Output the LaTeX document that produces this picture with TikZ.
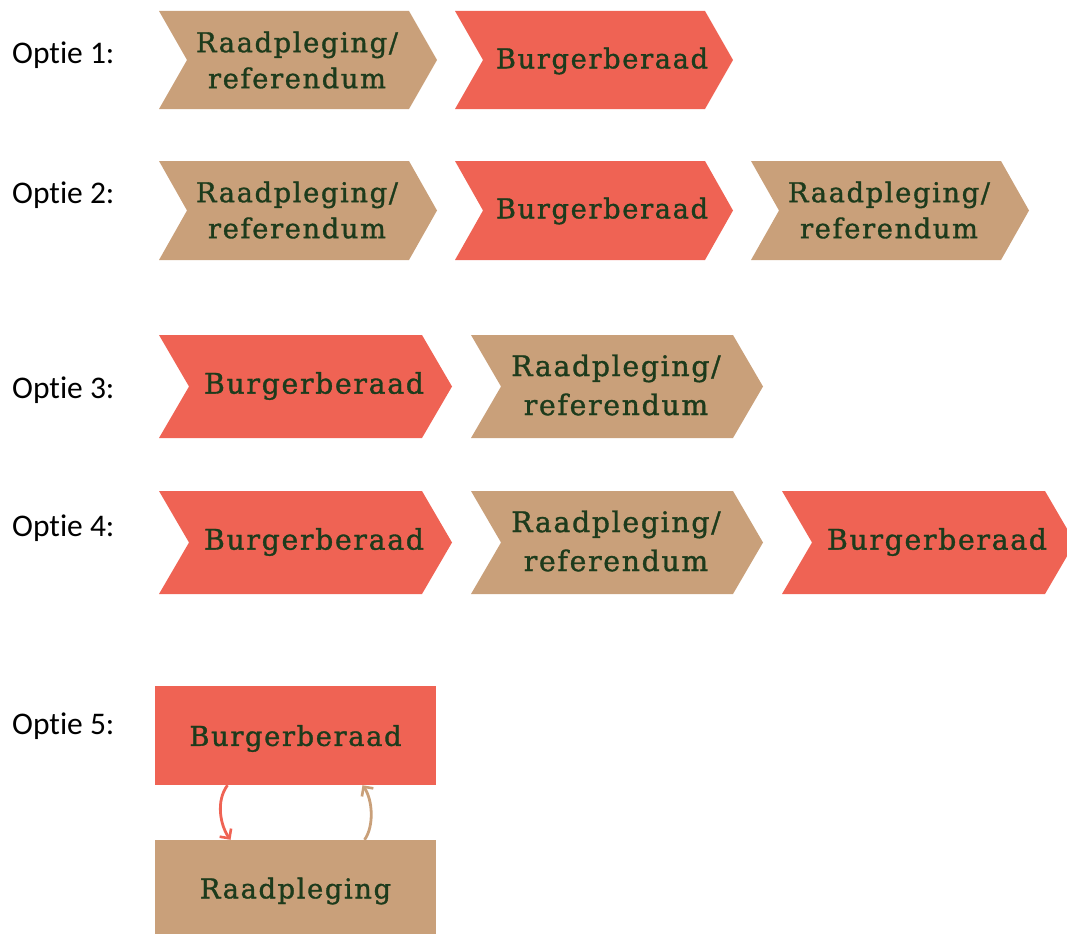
\documentclass[tikz,border=0pt]{standalone}
\usepackage{fontspec}
\setmainfont[Ligatures={NoCommon,NoRequired,NoContextual,NoDiscretionary}]{Carlito}
\newfontfamily\slab[LetterSpace=6,FakeBold=1.2]{DejaVu Serif}
\usetikzlibrary{arrows.meta}
\definecolor{tanc}{HTML}{C9A07A}
\definecolor{coral}{HTML}{EF6354}
\definecolor{ink}{HTML}{1D3B1C}
\newcommand\mychev[6]{\fill[#5] (#1,#3) -- ({#2-#6},#3) -- (#2,{(#3+#4)/2}) -- ({#2-#6},#4) -- (#1,#4) -- ({#1+#6},{(#3+#4)/2}) -- cycle;}
\tikzset{
  lab/.style={anchor=west, inner sep=0pt, font=\fontsize{31.5}{36}\selectfont, text=black},
  txt/.style={inner sep=0pt, align=center, text=ink, font=\slab\fontsize{27.3}{36}\selectfont},
  txtb/.style={inner sep=0pt, align=center, text=ink, font=\slab\fontsize{28.3}{39}\selectfont},
  boxr/.style={fill=coral, minimum width=281pt, minimum height=99pt, inner sep=0pt},
  boxt/.style={fill=tanc, minimum width=281pt, minimum height=94pt, inner sep=0pt},
  cyc/.style={line width=2.8pt, -{Straight Barb[length=7pt,width=14pt,line width=2.6pt]}}
}
\begin{document}
\begin{tikzpicture}[x=1pt,y=-1pt]
\useasboundingbox (0,0) rectangle (1067,934);
% labels
\node[lab] (o1) at (12,55) {Optie 1:};
\node[lab] (o2) at (12,195) {Optie 2:};
\node[lab] (o3) at (12,390) {Optie 3:};
\node[lab] (o4) at (12,528) {Optie 4:};
\node[lab] (o5) at (12,726) {Optie 5:};
% row 1
\mychev{159}{437}{11}{109}{tanc}{28}
\mychev{455}{733}{11}{109}{coral}{28}
\node[txt] (a1) at (297,60) {Raadpleging/\\referendum};
\node[txt] (a2) at (602,61) {Burgerberaad};
% row 2
\mychev{159}{437}{161}{260}{tanc}{28}
\mychev{455}{733}{161}{260}{coral}{28}
\mychev{751}{1029}{161}{260}{tanc}{28}
\node[txt] (b1) at (297,210) {Raadpleging/\\referendum};
\node[txt] (b2) at (602,211) {Burgerberaad};
\node[txt] (b3) at (889,210) {Raadpleging/\\referendum};
% row 3
\mychev{159}{452}{335}{438}{coral}{30}
\mychev{471}{763}{335}{438}{tanc}{30}
\node[txtb] (c1) at (314,386) {Burgerberaad};
\node[txtb] (c2) at (616,385) {Raadpleging/\\referendum};
% row 4
\mychev{159}{452}{491}{594}{coral}{30}
\mychev{471}{763}{491}{594}{tanc}{30}
\mychev{782}{1075}{491}{594}{coral}{30}
\node[txtb] (d1) at (314,542) {Burgerberaad};
\node[txtb] (d2) at (616,541) {Raadpleging/\\referendum};
\node[txtb] (d3) at (937,542) {Burgerberaad};
% row 5
\node[boxr] (e1) at (295.5,735.5) {};
\node[boxt] (e2) at (295.5,887) {};
\node[txt] at ([yshift=-3pt]e1.center) {Burgerberaad};
\node[txt] at ([yshift=-4pt]e2.center) {Raadpleging};
\draw[cyc, coral] ([xshift=-68pt]e1.south) .. controls +(-12,16) and +(-10,-14) .. ([xshift=-65pt]e2.north);
\draw[cyc, tanc] ([xshift=69pt]e2.north) .. controls +(10,-14) and +(10,14) .. ([xshift=67pt]e1.south);
\end{tikzpicture}
\end{document}
